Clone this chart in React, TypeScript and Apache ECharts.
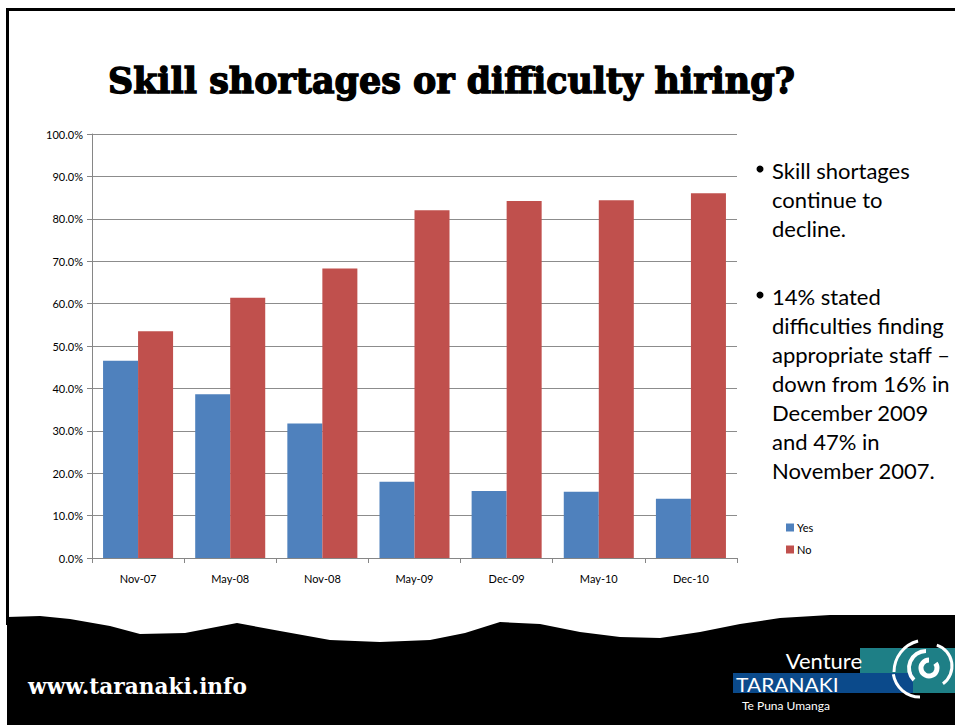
import React, { useEffect, useRef } from 'react';
import * as echarts from 'echarts';

const categories = ['Nov-07', 'May-08', 'Nov-08', 'May-09', 'Dec-09', 'May-10', 'Dec-10'];
const yesValues = [46.5, 38.6, 31.7, 18.0, 15.8, 15.6, 14.0];
const noValues = [53.5, 61.4, 68.3, 82.0, 84.2, 84.4, 86.0];
const seriesNames = ['Yes', 'No'];
const titleText = 'Skill shortages or difficulty hiring?';
const bulletOne = ['Skill shortages', 'continue to', 'decline.'];
const bulletTwo = [
  '14% stated',
  'difficulties finding',
  'appropriate staff –',
  'down from 16% in',
  'December 2009',
  'and 47% in',
  'November 2007.',
];
const footerUrl = 'www.taranaki.info';
const logoWords = ['Venture', 'TARANAKI', 'Te Puna Umanga'];

const BODY_FONT = 'Lato';
const SLAB_FONT = 'DejaVu Serif';

function measure(text: string, font: string): number {
  const c = document.createElement('canvas');
  const ctx = c.getContext('2d');
  if (!ctx) return 0;
  ctx.font = font;
  return ctx.measureText(text).width;
}

function txt(x: number, y: number, text: string, opts: any = {}) {
  const style: any = {
    text,
    fill: opts.fill ?? '#000',
    fontSize: opts.fontSize ?? 20,
    fontFamily: opts.fontFamily ?? BODY_FONT,
    fontWeight: opts.fontWeight ?? 'normal',
    textAlign: opts.align ?? 'left',
    align: opts.align ?? 'left',
    textVerticalAlign: 'middle',
    verticalAlign: 'middle',
  };
  if (opts.stroke) {
    style.stroke = opts.stroke;
    style.lineWidth = opts.lineWidth ?? 1;
  }
  return {
    type: 'text',
    x,
    y,
    scaleX: opts.scaleX ?? 1,
    silent: true,
    style,
  };
}

export default function App() {
  const ref = useRef<HTMLDivElement>(null);

  useEffect(() => {
    document.body.style.margin = '0';
    if (!ref.current) return;
    const chart = echarts.init(ref.current, null, { renderer: 'svg' });

    const titleW = measure(titleText, `bold 36px ${SLAB_FONT}`) || 800;
    const urlW = measure(footerUrl, `bold 22px ${SLAB_FONT}`) || 230;

    const graphics: any[] = [];
    // slide border
    graphics.push({ type: 'line', shape: { x1: 6, y1: 9.5, x2: 955, y2: 9.5 }, style: { stroke: '#000', lineWidth: 3 }, silent: true });
    graphics.push({ type: 'line', shape: { x1: 7.5, y1: 8, x2: 7.5, y2: 625 }, style: { stroke: '#000', lineWidth: 3 }, silent: true });

    // footer brush shape
    graphics.push({
      type: 'polygon',
      silent: true,
      shape: {
        points: [
          [7, 617], [40, 616], [70, 619], [110, 626], [140, 634], [185, 633], [237, 623],
          [280, 631], [330, 640], [380, 642], [430, 640], [465, 633], [500, 622], [540, 624],
          [580, 632], [620, 637], [660, 638], [700, 632], [740, 624], [780, 618], [830, 615],
          [955, 615], [955, 725], [7, 725],
        ],
      },
      style: { fill: '#000' },
    });

    // title
    graphics.push(txt(108, 80, titleText, { fontFamily: SLAB_FONT, fontWeight: 'bold', fontSize: 36, scaleX: 687 / titleW, stroke: '#000', lineWidth: 1.4 }));

    // bullets
    const bulletX = 772;
    bulletOne.forEach((l, i) => graphics.push(txt(bulletX, 170 + i * 29, l, { fontSize: 22 })));
    bulletTwo.forEach((l, i) => graphics.push(txt(bulletX, 296 + i * 29, l, { fontSize: 22 })));
    graphics.push({ type: 'circle', shape: { cx: 760, cy: 169, r: 3.5 }, style: { fill: '#000' }, silent: true });
    graphics.push({ type: 'circle', shape: { cx: 760, cy: 295, r: 3.5 }, style: { fill: '#000' }, silent: true });

    // footer url
    graphics.push(txt(28, 686, footerUrl, { fontFamily: SLAB_FONT, fontWeight: 'bold', fontSize: 22, fill: '#fff', scaleX: 219 / urlW }));

    // logo
    graphics.push({ type: 'rect', shape: { x: 860, y: 648, width: 95, height: 45 }, style: { fill: '#1e7f86' }, silent: true });
    graphics.push({ type: 'rect', shape: { x: 733, y: 673, width: 180, height: 20 }, style: { fill: '#0b4a8b' }, silent: true });
    graphics.push(txt(862, 660, logoWords[0], { fontSize: 22, fill: '#fff', align: 'right' }));
    graphics.push(txt(736, 684, logoWords[1], { fontSize: 20, fill: '#fff', scaleX: 1.05 }));
    graphics.push(txt(742, 705, logoWords[2], { fontSize: 12, fill: '#fff' }));
    // swirl
    const swirl = [
      { cx: 929, cy: 668, r: 8, s: -Math.PI * 0.2, e: Math.PI * 1.5, w: 5 },
      { cx: 926, cy: 668, r: 17, s: Math.PI * 0.75, e: Math.PI * 1.5, w: 4 },
      { cx: 930, cy: 666, r: 22, s: -Math.PI * 0.4, e: Math.PI * 0.3, w: 3 },
      { cx: 926, cy: 672, r: 32, s: Math.PI * 1.0, e: Math.PI * 1.42, w: 3 },
      { cx: 920, cy: 670, r: 27, s: Math.PI * 0.5, e: Math.PI * 0.95, w: 3 },
    ];
    swirl.forEach((a) =>
      graphics.push({
        type: 'arc',
        silent: true,
        shape: { cx: a.cx, cy: a.cy, r: a.r, startAngle: a.s, endAngle: a.e, clockwise: true },
        style: { stroke: '#fff', lineWidth: a.w, fill: null },
      })
    );

    chart.setOption({
      animation: false,
      backgroundColor: '#fff',
      textStyle: { fontFamily: BODY_FONT },
      grid: { left: 92, right: 218, top: 134, bottom: 167, containLabel: false },
      legend: {
        orient: 'vertical',
        left: 781,
        top: 517,
        itemWidth: 8,
        itemHeight: 8,
        itemGap: 11,
        icon: 'rect',
        textStyle: { fontSize: 11, color: '#000', fontFamily: BODY_FONT, padding: [0, 0, 0, -2] },
        data: seriesNames,
      },
      xAxis: {
        type: 'category',
        data: categories,
        axisLine: { lineStyle: { color: '#868686', width: 1 } },
        axisTick: { show: true, length: 5, lineStyle: { color: '#868686' } },
        axisLabel: { color: '#000', fontSize: 11, margin: 15, fontFamily: BODY_FONT },
      },
      yAxis: {
        type: 'value',
        min: 0,
        max: 100,
        interval: 10,
        axisLine: { show: true, lineStyle: { color: '#868686', width: 1 } },
        axisTick: { show: true, length: 5, lineStyle: { color: '#868686' } },
        axisLabel: { color: '#000', fontSize: 11, margin: 9, fontFamily: BODY_FONT, formatter: (v: number) => v.toFixed(1) + '%' },
        splitLine: { lineStyle: { color: '#8c8c8c', width: 1 } },
      },
      series: [
        { name: seriesNames[0], type: 'bar', data: yesValues, itemStyle: { color: '#4F81BD' }, barGap: '0%', barCategoryGap: '24%' },
        { name: seriesNames[1], type: 'bar', data: noValues, itemStyle: { color: '#C0504D' }, barGap: '0%', barCategoryGap: '24%' },
      ],
      graphic: { elements: graphics },
    });

    return () => chart.dispose();
  }, []);

  return <div ref={ref} style={{ width: 955, height: 725 }} />;
}
